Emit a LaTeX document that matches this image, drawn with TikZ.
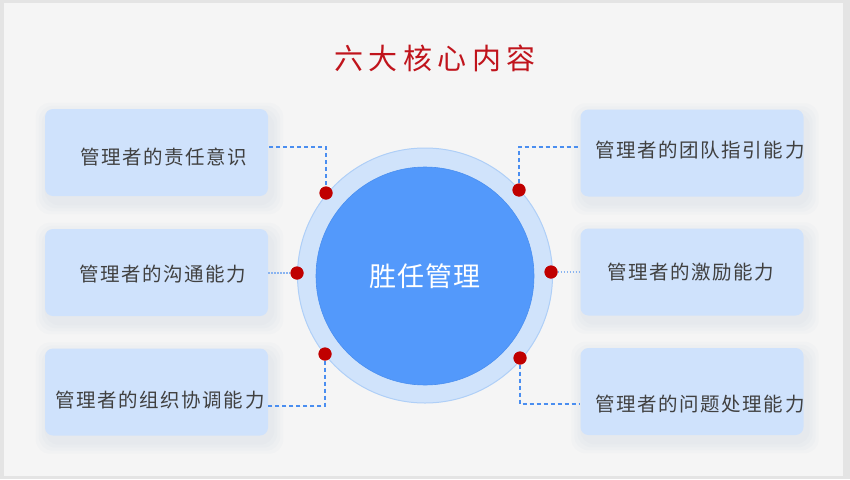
\documentclass[tikz,border=0pt]{standalone}
\usepackage{fontspec}
\newfontfamily\cjk{Noto Sans CJK SC}[LetterSpace=8]
\newfontfamily\cjktitle{Noto Sans CJK SC}[LetterSpace=19]
\newfontfamily\cjkcenter{Noto Sans CJK SC}[LetterSpace=3]
\definecolor{frame}{HTML}{E4E4E4}
\definecolor{paper}{HTML}{F5F5F5}
\definecolor{boxfill}{HTML}{CFE2FC}
\definecolor{ringfill}{HTML}{D0E3FB}
\definecolor{ringedge}{HTML}{AFCFF7}
\definecolor{corefill}{HTML}{5399FB}
\definecolor{coreedge}{HTML}{4A8FF0}
\definecolor{dotred}{HTML}{C00000}
\definecolor{linkblue}{HTML}{4A8EF0}
\definecolor{linklight}{HTML}{8AB4F0}
\definecolor{txt}{HTML}{404040}
\definecolor{titlered}{HTML}{C0141C}
\definecolor{shadowc}{HTML}{8A9CC0}
\pgfdeclarelayer{bg}
\pgfsetlayers{bg,main}
\tikzset{
  itembox/.style={draw=none, fill=boxfill, rounded corners=8pt, minimum width=223pt, minimum height=87pt, inner sep=0pt},
  itemtext/.style={font=\cjk\fontsize{19.5}{22}\selectfont, text=txt, inner sep=0pt, anchor=center},
  reddot/.style={circle, fill=dotred, minimum size=13pt, inner sep=0pt},
  link/.style={draw=linkblue, line width=1.1pt, dash pattern=on 4pt off 3pt},
  linkdot/.style={draw=linklight, line width=1.1pt, dash pattern=on 1.5pt off 1.5pt},
}
\begin{document}
\begin{tikzpicture}[x=1pt,y=-1pt]
\useasboundingbox (0,0) rectangle (850,479);
\begin{pgfonlayer}{bg}
\fill[frame] (0,0) rectangle (850,479);
\fill[paper] (4,3) rectangle (843,476);
\end{pgfonlayer}

% title
\node[font=\cjktitle\fontsize{29}{32}\selectfont, text=titlered, inner sep=0pt] (title) at (435,58) {六大核心内容};

% boxes
\node[itembox] (b1) at (156.5,152.5) {};
\node[itembox] (b2) at (156.5,272.5) {};
\node[itembox] (b3) at (156.5,392) {};
\node[itembox] (b4) at (692,153) {};
\node[itembox] (b5) at (692,272) {};
\node[itembox] (b6) at (692,391.5) {};

% soft shadows behind the boxes
\begin{pgfonlayer}{bg}
\foreach \b in {b1,b2,b3,b4,b5,b6}{
  \foreach \s in {12,9,6,3}{
    \fill[shadowc, opacity=0.03, rounded corners=14pt]
      ([shift={(3-\s,6-\s)}]\b.north west) rectangle ([shift={(3+\s,6+\s)}]\b.south east);
  }
}
\end{pgfonlayer}

\node[itemtext] (t1) at (164,157) {管理者的责任意识};
\node[itemtext] (t2) at (163,274) {管理者的沟通能力};
\node[itemtext] (t3) at (160,400) {管理者的组织协调能力};
\node[itemtext] (t4) at (700,150) {管理者的团队指引能力};
\node[itemtext] (t5) at (691,272) {管理者的激励能力};
\node[itemtext] (t6) at (700,404) {管理者的问题处理能力};

% central circles
\node[circle, fill=ringfill, draw=ringedge, line width=1pt, minimum size=255pt, inner sep=0pt] (ring) at (425,275.5) {};
\node[circle, fill=corefill, draw=coreedge, line width=0.6pt, minimum size=218pt, inner sep=0pt,
  font=\cjkcenter\fontsize{27}{30}\selectfont, text=white] (core) at (425,276) {胜任管理};

% dots
\node[reddot] (d1) at (326,193) {};
\node[reddot] (d2) at (297,273) {};
\node[reddot] (d3) at (325,354) {};
\node[reddot] (d4) at (519,190) {};
\node[reddot] (d5) at (551,272) {};
\node[reddot] (d6) at (520,358) {};

% connectors
\coordinate (c1) at (269,147);
\coordinate (c3) at (267,406);
\coordinate (c4) at (579,147);
\coordinate (c6) at (579,404);
\draw[link] (c1) -| (d1);
\draw[linkdot] (b2.east |- d2) -- (d2);
\draw[link] (d3) |- (c3);
\draw[link] (d4) |- (c4);
\draw[linkdot] (d5) -- (b5.west |- d5);
\draw[link] (d6) |- (c6);

% redraw dots on top
\node[reddot] at (d1) {};
\node[reddot] at (d2) {};
\node[reddot] at (d3) {};
\node[reddot] at (d4) {};
\node[reddot] at (d5) {};
\node[reddot] at (d6) {};
\end{tikzpicture}
\end{document}
